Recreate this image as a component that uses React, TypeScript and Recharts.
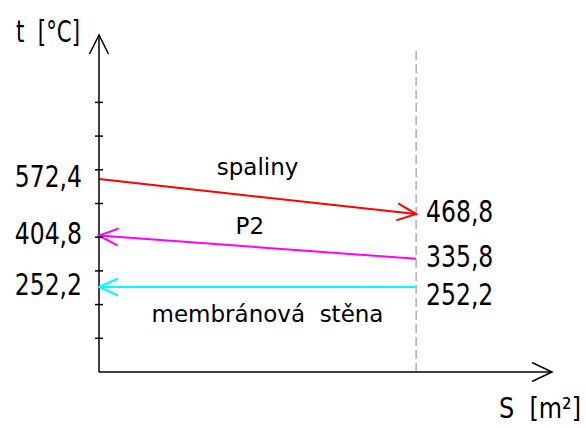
import React from 'react';
import { LineChart, Line, XAxis, YAxis, ReferenceLine, ReferenceDot, LabelList } from 'recharts';

// plocha S (relativne, osa 0..1), teploty ve °C
const sPoints = [0, 0.7];
const spaliny = [572.4, 468.8];
const p2 = [404.8, 335.8];
const membrana = [252.2, 252.2];
const yTicks = [100, 200, 300, 400, 500, 600, 700, 800];
const names = ['spaliny', 'P2', 'membránová  stěna'];

const NUM_FONT = "'DejaVu Sans Condensed', 'DejaVu Sans', sans-serif";
const TXT_FONT = "'DejaVu Sans', sans-serif";

const rows = (vals: number[]) => sPoints.map((s, i) => ({ s, t: vals[i] }));
const interp = (vals: number[], s: number) =>
  vals[0] + ((vals[1] - vals[0]) * (s - sPoints[0])) / (sPoints[1] - sPoints[0]);
const fmt = (v: number) => v.toFixed(1).replace('.', ',');

// uzky text (font zuzeny na sirku)
const Narrow = ({ x, y, anchor, children }: any) => (
  <text
    transform={`translate(${x},${y}) scale(0.87,1)`}
    x={0}
    y={0}
    textAnchor={anchor}
    fontFamily={NUM_FONT}
    fontSize={30}
    fill="#000"
    xmlSpace="preserve"
  >
    {children}
  </text>
);

// text s pevnou sirkou
const Fit = ({ x, y, w, size = 30, children }: any) => (
  <text x={x} y={y} textLength={w} lengthAdjust="spacingAndGlyphs" fontFamily={NUM_FONT} fontSize={size} fill="#000" xmlSpace="preserve">
    {children}
  </text>
);

const arrowDot = (at: number, color: string) => (props: any) => {
  const { cx, cy, index, points } = props;
  if (index !== at) return <g key={`d-${index}`} />;
  let ux = at === 0 ? -1 : 1;
  let uy = 0;
  if (points && points.length > 1) {
    const other = points[at === 0 ? 1 : 0];
    const dx = cx - other.x;
    const dy = cy - other.y;
    const len = Math.hypot(dx, dy) || 1;
    ux = dx / len;
    uy = dy / len;
  }
  const L = 19, W = 8.5;
  const bx = cx - ux * L, by = cy - uy * L;
  return (
    <path
      key={`d-${index}`}
      d={`M${bx - uy * W},${by + ux * W} L${cx},${cy} L${bx + uy * W},${by - ux * W}`}
      stroke={color}
      strokeWidth={2}
      fill="none"
    />
  );
};

const valueLabel = (rightDy: number) => (props: any) => {
  const { x, y, value, index } = props;
  const left = index === 0;
  return (
    <Narrow x={left ? x - 17 : x + 10} y={(left ? y : y + rightDy) + 8} anchor={left ? 'end' : 'start'}>
      {fmt(value)}
    </Narrow>
  );
};

const nameShape = (text: string, dy: number) => (p: any) => (
  <text x={p.cx} y={p.cy + dy} textAnchor="middle" fontFamily={TXT_FONT} fontSize={23} fill="#000" xmlSpace="preserve">
    {text}
  </text>
);

const App = () => {
  return (
    <div style={{ position: 'absolute', left: 0, top: 0, width: 586, height: 428, background: '#fff' }}>
      <LineChart width={586} height={428} margin={{ top: 35, right: 34, bottom: 55, left: 98 }}>
        <XAxis
          type="number"
          dataKey="s"
          domain={[0, 1]}
          height={1}
          tick={false}
          tickLine={false}
          axisLine={{ stroke: '#000', strokeWidth: 1.5 }}
          label={{
            content: (p: any) => (
              <Fit x={p.viewBox.x + p.viewBox.width - 53} y={p.viewBox.y + 46} w={82} size={28}>
                S  [m²]
              </Fit>
            ),
          }}
        />
        <YAxis
          type="number"
          domain={[0, 1000]}
          width={1}
          ticks={yTicks}
          tickSize={0}
          tickMargin={0}
          tickLine={false}
          axisLine={{ stroke: '#000', strokeWidth: 1.5 }}
          tick={(p: any) => (
            <line x1={p.x - 4} x2={p.x + 4} y1={p.y} y2={p.y} stroke="#000" strokeWidth={1.5} />
          )}
          label={{
            content: (p: any) => (
              <Fit x={p.viewBox.x + p.viewBox.width - 83} y={p.viewBox.y + 7} w={64}>
                t  [°C]
              </Fit>
            ),
          }}
        />
        <ReferenceLine
          segment={[{ x: sPoints[1], y: 0 }, { x: sPoints[1], y: 961 }]}
          stroke="#888"
          strokeWidth={1}
          strokeDasharray="9 4"
        />
        <ReferenceDot x={0} y={1000} r={0} shape={(p: any) => (
          <path d={`M${p.cx - 9.5},${p.cy + 19} L${p.cx},${p.cy} L${p.cx + 9.5},${p.cy + 19}`} stroke="#000" strokeWidth={1.5} fill="none" />
        )} />
        <ReferenceDot x={1} y={0} r={0} shape={(p: any) => (
          <path d={`M${p.cx - 20},${p.cy - 9.5} L${p.cx},${p.cy} L${p.cx - 20},${p.cy + 9.5}`} stroke="#000" strokeWidth={1.5} fill="none" />
        )} />
        <Line data={rows(spaliny)} dataKey="t" stroke="#ff0000" strokeWidth={2} dot={arrowDot(1, '#ff0000')} activeDot={false} isAnimationActive={false}>
          <LabelList dataKey="t" content={valueLabel(0)} />
        </Line>
        <Line data={rows(p2)} dataKey="t" stroke="#ff00ff" strokeWidth={2} dot={arrowDot(0, '#ff00ff')} activeDot={false} isAnimationActive={false}>
          <LabelList dataKey="t" content={valueLabel(0)} />
        </Line>
        <Line data={rows(membrana)} dataKey="t" stroke="#00ffff" strokeWidth={2} dot={arrowDot(0, '#00ffff')} activeDot={false} isAnimationActive={false}>
          <LabelList dataKey="t" content={valueLabel(10)} />
        </Line>
        <ReferenceDot x={0.35} y={interp(spaliny, 0.35)} r={0} shape={nameShape(names[0], -22)} />
        <ReferenceDot x={0.333} y={interp(p2, 0.333)} r={0} shape={nameShape(names[1], -13)} />
        <ReferenceDot x={0.372} y={interp(membrana, 0.372)} r={0} shape={nameShape(names[2], 35)} />
      </LineChart>
    </div>
  );
};

export default App;
